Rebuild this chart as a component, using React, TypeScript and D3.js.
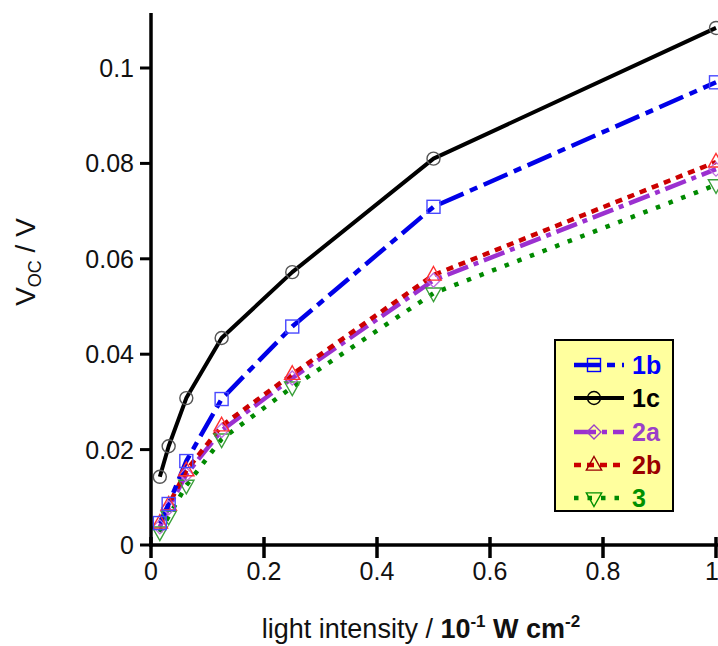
import React from "react";
import * as d3 from "d3";

const intensities = [0.015625, 0.03125, 0.0625, 0.125, 0.25, 0.5, 1];
const v1b = [0.0046, 0.0086, 0.0176, 0.0306, 0.0458, 0.0709, 0.097];
const v1c = [0.0143, 0.0207, 0.0308, 0.0434, 0.0572, 0.081, 0.1084];
const v2a = [0.0038, 0.0078, 0.0148, 0.024, 0.035, 0.0555, 0.0788];
const v2b = [0.0046, 0.0084, 0.0156, 0.025, 0.0358, 0.0566, 0.0803];
const v3 = [0.0027, 0.006, 0.0125, 0.0222, 0.0331, 0.0528, 0.0755];
const xTicks = [0, 0.2, 0.4, 0.6, 0.8, 1];
const yTicks = [0, 0.02, 0.04, 0.06, 0.08, 0.1];
const xTickLabels = ["0", "0.2", "0.4", "0.6", "0.8", "1"];
const yTickLabels = ["0", "0.02", "0.04", "0.06", "0.08", "0.1"];
const seriesNames = ["1b", "1c", "2a", "2b", "3"];

type S = {
  name: string; values: number[]; color: string; mColor: string; textColor: string;
  dash: string; width: number; marker: string; cap: string;
};

const series: S[] = [
  { name: seriesNames[4], values: v3, color: "#008a00", mColor: "#3aa03a", textColor: "#009000", dash: "4.5,9", width: 4.5, marker: "tdown", cap: "butt" },
  { name: seriesNames[2], values: v2a, color: "#9b30d0", mColor: "#c070e0", textColor: "#9b40c8", dash: "22,6,5,6", width: 4.5, marker: "diamond", cap: "butt" },
  { name: seriesNames[3], values: v2b, color: "#cc0000", mColor: "#ff3030", textColor: "#9a0000", dash: "7,6", width: 4.5, marker: "tup", cap: "butt" },
  { name: seriesNames[0], values: v1b, color: "#0000e8", mColor: "#4848ff", textColor: "#0000ff", dash: "26,7,8,7", width: 4.5, marker: "square", cap: "butt" },
  { name: seriesNames[1], values: v1c, color: "#000000", mColor: "#555555", textColor: "#000000", dash: "", width: 4, marker: "circle", cap: "butt" },
];

const legendOrder = ["1b", "1c", "2a", "2b", "3"];

function Marker({ type, cx, cy, color, scale = 1 }: { type: string; cx: number; cy: number; color: string; scale?: number }) {
  const sw = 1.4;
  if (type === "square") {
    const s = 13 * scale;
    return <rect x={cx - s / 2} y={cy - s / 2} width={s} height={s} fill="none" stroke={color} strokeWidth={sw} />;
  }
  if (type === "circle") {
    return <circle cx={cx} cy={cy} r={6.5 * scale} fill="none" stroke={color} strokeWidth={sw} />;
  }
  if (type === "diamond") {
    const r = 7 * scale;
    return <path d={`M${cx},${cy - r}L${cx + r},${cy}L${cx},${cy + r}L${cx - r},${cy}Z`} fill="none" stroke={color} strokeWidth={sw} />;
  }
  if (type === "tup") {
    const r = 8.5 * scale;
    return <path d={`M${cx},${cy - r}L${cx + r * 0.9},${cy + r * 0.6}L${cx - r * 0.9},${cy + r * 0.6}Z`} fill="none" stroke={color} strokeWidth={sw} />;
  }
  const r = 8.5 * scale;
  return <path d={`M${cx},${cy + r}L${cx + r * 0.9},${cy - r * 0.6}L${cx - r * 0.9},${cy - r * 0.6}Z`} fill="none" stroke={color} strokeWidth={sw} />;
}

export default function App() {
  const W = 718, H = 646;
  const x = d3.scaleLinear().domain([0, 1]).range([151, 716]);
  const y = d3.scaleLinear().domain([0, 0.1]).range([545, 68]);
  const line = d3.line<[number, number]>().x(d => x(d[0])).y(d => y(d[1]));
  const font = "'Liberation Sans', Arial, sans-serif";

  const legX = 555, legY = 340, legW = 118, legH = 171;
  const rowYs = [365, 398, 432, 465, 498];

  return (
    <svg width={W} height={H} style={{ position: "absolute", left: 0, top: 0 }} fontFamily={font}>
      <rect width={W} height={H} fill="#fff" />
      {/* lines */}
      {series.map(s => (
        <path key={s.name + "l"} d={line(intensities.map((xi, i) => [xi, s.values[i]]))!}
          fill="none" stroke={s.color} strokeWidth={s.width} strokeDasharray={s.dash || undefined}
          strokeLinecap={s.cap as any} strokeLinejoin="round" />
      ))}
      {/* markers */}
      {series.map(s => (
        <g key={s.name + "m"}>
          {intensities.map((xi, i) => (
            <Marker key={i} type={s.marker} cx={x(xi)} cy={y(s.values[i])} color={s.mColor} />
          ))}
        </g>
      ))}
      {/* axes */}
      <line x1={151} x2={151} y1={13} y2={547} stroke="#000" strokeWidth={3.5} />
      <line x1={149} x2={718} y1={545} y2={545} stroke="#000" strokeWidth={3.5} />
      {yTicks.map((t, i) => (
        <g key={"y" + i}>
          <line x1={140} x2={151} y1={y(t)} y2={y(t)} stroke="#000" strokeWidth={3} />
          <text x={134} y={y(t) + 9} textAnchor="end" fontSize={25} fill="#111">{yTickLabels[i]}</text>
        </g>
      ))}
      {xTicks.map((t, i) => (
        <g key={"x" + i}>
          <line x1={x(t)} x2={x(t)} y1={537} y2={558} stroke="#000" strokeWidth={3.5} />
          <text x={t === 1 ? x(t) - 4 : x(t)} y={580} textAnchor="middle" fontSize={25} fill="#111">{xTickLabels[i]}</text>
        </g>
      ))}
      {/* axis titles */}
      <text transform="translate(35,262) rotate(-90)" textAnchor="middle" fontSize={28} fill="#111">
        <tspan>V</tspan>
        <tspan fontSize={18} dy={6}>OC</tspan>
        <tspan dy={-6}> / V</tspan>
      </text>
      <text x={421} y={638} textAnchor="middle" fontSize={27} fill="#111">
        <tspan>light intensity / </tspan>
        <tspan fontWeight="bold">10</tspan>
        <tspan fontWeight="bold" fontSize={17} dy={-11}>-1</tspan>
        <tspan fontWeight="bold" dy={11}> W cm</tspan>
        <tspan fontWeight="bold" fontSize={17} dy={-11}>-2</tspan>
      </text>
      {/* legend */}
      <rect x={legX} y={legY} width={legW} height={legH} fill="#ffff9e" stroke="#000" strokeWidth={2} />
      {legendOrder.map((n, i) => {
        const s = series.find(q => q.name === n)!;
        const cy = rowYs[i];
        return (
          <g key={"lg" + n}>
            <line x1={574} x2={624} y1={cy} y2={cy} stroke={s.color} strokeWidth={s.width}
              strokeDasharray={s.dash || undefined} />
            <Marker type={s.marker} cx={594} cy={cy} color={s.color === "#000000" ? "#000" : s.textColor} />
            <text x={632} y={cy + 8.5} fontSize={25} fontWeight="bold" fill={s.textColor}>{n}</text>
          </g>
        );
      })}
    </svg>
  );
}
